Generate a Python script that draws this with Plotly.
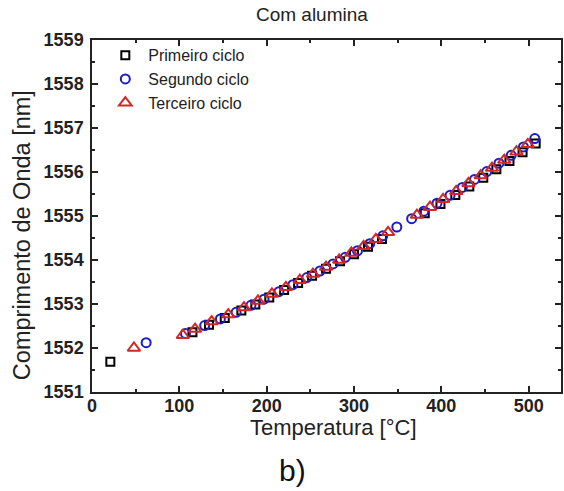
import plotly.graph_objects as go

# Primeiro ciclo (black squares)
t1 = [21, 115, 134, 152, 171, 187, 203, 220, 236, 252, 268, 284, 300, 316, 332,
      381, 399, 416, 432, 448, 463, 478, 493, 508]
w1 = [1551.69, 1552.36, 1552.53, 1552.68, 1552.85, 1552.99, 1553.15, 1553.32, 1553.48,
      1553.64, 1553.80, 1553.97, 1554.13, 1554.30, 1554.48,
      1555.06, 1555.27, 1555.48, 1555.67, 1555.87, 1556.06, 1556.25, 1556.45, 1556.65]

# Segundo ciclo (blue circles)
t2 = [62, 107, 129, 147, 165, 182, 197, 214, 230, 246, 261, 276, 290, 304, 318, 333,
      349, 366, 380, 395, 410, 424, 438, 452, 466, 480, 494, 507]
w2 = [1552.12, 1552.33, 1552.51, 1552.66, 1552.81, 1552.97, 1553.11, 1553.28, 1553.44,
      1553.60, 1553.75, 1553.91, 1554.06, 1554.21, 1554.37, 1554.55, 1554.75, 1554.94,
      1555.11, 1555.29, 1555.47, 1555.65, 1555.83, 1556.01, 1556.20, 1556.38, 1556.57,
      1556.76]

# Terceiro ciclo (red triangles)
t3 = [48, 104, 118, 137, 156, 174, 190, 206, 222, 238, 253, 268, 283, 297, 311, 325,
      339, 372, 387, 402, 417, 431, 445, 458, 472, 486, 499]
w3 = [1552.00, 1552.29, 1552.43, 1552.60, 1552.76, 1552.92, 1553.07, 1553.23, 1553.38,
      1553.54, 1553.68, 1553.84, 1554.00, 1554.16, 1554.31, 1554.47, 1554.63, 1555.02,
      1555.20, 1555.38, 1555.56, 1555.74, 1555.92, 1556.09, 1556.27, 1556.46, 1556.63]

names = ["Primeiro ciclo", "Segundo ciclo", "Terceiro ciclo"]
xtick_vals = [0, 100, 200, 300, 400, 500]
ytick_vals = [1551, 1552, 1553, 1554, 1555, 1556, 1557, 1558, 1559]

FONT = "Liberation Sans, Arial, sans-serif"

fig = go.Figure()
fig.add_trace(go.Scatter(x=t1, y=w1, mode="markers", name=names[0],
                         marker=dict(symbol="square-open", size=8, color="black",
                                     line=dict(width=2, color="black"))))
fig.add_trace(go.Scatter(x=t2, y=w2, mode="markers", name=names[1],
                         marker=dict(symbol="circle-open", size=9, color="#1c1cc4",
                                     line=dict(width=2, color="#1c1cc4"))))
fig.add_trace(go.Scatter(x=t3, y=w3, mode="markers", name=names[2],
                         marker=dict(symbol="triangle-up-open", size=11, color="#d42626",
                                     line=dict(width=2, color="#d42626"))))

axis_common = dict(showline=True, linecolor="#222", linewidth=1.5, mirror="ticks",
                   ticks="inside", ticklen=6, tickwidth=1.5, tickcolor="#222",
                   showgrid=False, zeroline=False,
                   tickfont=dict(family=FONT, size=18, color="#222", weight="bold"))

fig.update_xaxes(range=[0, 537], tickvals=xtick_vals, ticklabelstandoff=-3,
                 minor=dict(ticks="inside", ticklen=3, tickwidth=1.5, dtick=50, tickcolor="#222", showgrid=False),
                 **axis_common)
fig.update_yaxes(range=[1551, 1559], tickvals=ytick_vals, ticklabelstandoff=3,
                 minor=dict(ticks="inside", ticklen=3, tickwidth=1.5, dtick=0.5, tickcolor="#222", showgrid=False),
                 **axis_common)

fig.update_layout(
    width=564, height=491,
    margin=dict(l=92, r=1, t=40, b=99),
    plot_bgcolor="white", paper_bgcolor="white",
    title=dict(text="Com alumina", x=0.553, xanchor="center", y=0.97, yanchor="middle",
               font=dict(family=FONT, size=19, color="#222")),
    showlegend=True,
    legend=dict(x=0.022, y=1.005, xanchor="left", yanchor="top", bgcolor="rgba(0,0,0,0)",
                font=dict(family=FONT, size=16, color="#222"), itemwidth=36, tracegroupgap=0),
    annotations=[
        dict(text="Temperatura [°C]", x=0.514, y=-0.1, xref="paper", yref="paper",
             xanchor="center", yanchor="middle", showarrow=False,
             font=dict(family=FONT, size=22, color="#222")),
        dict(text="Comprimento de Onda [nm]", x=-0.149, y=0.446, xref="paper", yref="paper",
             xanchor="center", yanchor="middle", showarrow=False, textangle=-90,
             font=dict(family=FONT, size=23.5, color="#222")),
        dict(text="b)", x=0.428, y=-0.222, xref="paper", yref="paper",
             xanchor="center", yanchor="middle", showarrow=False,
             font=dict(family=FONT, size=30, color="#111")),
    ],
)

fig.write_html("out.html")
